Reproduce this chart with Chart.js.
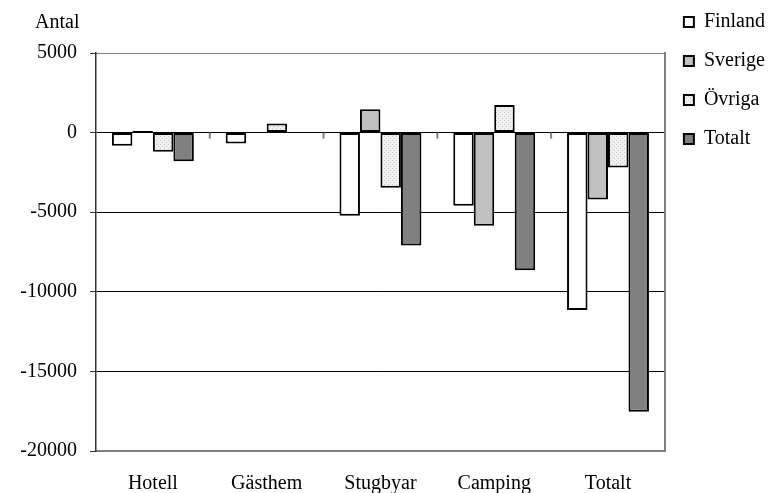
<!DOCTYPE html>
<html>
<head>
<meta charset="utf-8">
<script src="https://cdn.jsdelivr.net/npm/chart.js@4"></script>
<style>
  html, body { margin: 0; padding: 0; background: #ffffff; }
  #wrap { width: 775px; height: 493px; position: relative; }
</style>
</head>
<body>
<div id="wrap"><canvas id="c"></canvas></div>
<script>
const categories = ['Hotell', 'Gästhem', 'Stugbyar', 'Camping', 'Totalt'];
const seriesNames = ['Finland', 'Sverige', 'Övriga', 'Totalt'];
const finland = [-820, -680, -5220, -4600, -11150];
const sverige = [100, null, 1460, -5850, -4210];
const ovriga = [-1200, 570, -3470, 1730, -2200];
const totalt = [-1800, null, -7090, -8640, -17530];
const yTicks = [5000, 0, -5000, -10000, -15000, -20000];
const yTitle = 'Antal';

const FONT = 'Liberation Serif, Times New Roman, serif';

function dotPattern() {
  const pc = document.createElement('canvas');
  pc.width = 4; pc.height = 4;
  const g = pc.getContext('2d');
  g.fillStyle = '#f0f0f0';
  g.fillRect(0, 0, 4, 4);
  g.fillStyle = '#cacaca';
  g.fillRect(0, 0, 1, 1);
  g.fillRect(2, 2, 1, 1);
  return g.createPattern(pc, 'repeat');
}

const titlePlugin = {
  id: 'yTitleText',
  afterDraw(chart) {
    const { ctx, chartArea } = chart;
    ctx.save();
    ctx.font = '20px ' + FONT;
    ctx.fillStyle = '#000';
    ctx.textAlign = 'left';
    ctx.textBaseline = 'alphabetic';
    ctx.fillText(yTitle, chartArea.left - 61, chartArea.top - 25);
    ctx.restore();
  }
};

const zeroTicksPlugin = {
  id: 'zeroTicks',
  afterDraw(chart) {
    const { ctx } = chart;
    const xs = chart.scales.x, ys = chart.scales.y;
    const y0 = ys.getPixelForValue(0);
    ctx.save();
    ctx.strokeStyle = '#808080';
    ctx.lineWidth = 2;
    for (let i = 1; i < categories.length; i++) {
      const x = (xs.getPixelForValue(i - 1) + xs.getPixelForValue(i)) / 2;
      ctx.beginPath();
      ctx.moveTo(x, y0);
      ctx.lineTo(x, y0 + 6);
      ctx.stroke();
    }
    ctx.restore();
  }
};

const fills = ['#ffffff', '#c0c0c0', dotPattern(), '#808080'];
const values = [finland, sverige, ovriga, totalt];

new Chart(document.getElementById('c'), {
  type: 'bar',
  data: {
    labels: categories,
    datasets: seriesNames.map((n, i) => ({
      label: n,
      data: values[i],
      backgroundColor: fills[i],
      borderColor: '#000000',
      borderWidth: 2,
      borderSkipped: false,
      inflateAmount: 0,
      categoryPercentage: 0.72,
      barPercentage: 1.0
    }))
  },
  options: {
    responsive: true,
    maintainAspectRatio: false,
    animation: false,
    layout: { padding: { top: -7, right: 0, bottom: 0, left: 0 } },
    plugins: {
      tooltip: { enabled: false },
      title: { display: false },
      legend: {
        position: 'right',
        align: 'start',
        maxWidth: 111,
        labels: {
          boxWidth: 10,
          boxHeight: 10,
          padding: 19,
          color: '#000',
          font: { family: FONT, size: 20 }
        }
      }
    },
    scales: {
      x: {
        position: 'bottom',
        grid: { display: false, drawTicks: false },
        border: { display: true, color: '#808080', width: 2 },
        ticks: { color: '#000', font: { family: FONT, size: 20 }, padding: 21, maxRotation: 0 },
        afterFit(scale) { scale.height = 42; }
      },
      x2: {
        type: 'linear',
        position: 'top',
        grid: { display: false, drawTicks: false },
        border: { display: true, color: '#808080', width: 1 },
        ticks: { display: false },
        afterFit(scale) { scale.height = 60; }
      },
      y: {
        min: -20000,
        max: 5000,
        afterBuildTicks(scale) { scale.ticks = yTicks.map(v => ({ value: v })); },
        ticks: {
          color: '#000',
          font: { family: FONT, size: 20 },
          padding: 13,
          callback: (v) => String(v)
        },
        grid: {
          color: (c) => (c.tick && (c.tick.value === 5000 || c.tick.value === -20000)) ? '#808080' : '#000000',
          lineWidth: 1,
          drawTicks: true,
          tickLength: 6,
          tickColor: '#333333'
        },
        border: { display: true, color: '#333333', width: 1.5 },
        afterFit(scale) { scale.width = 96; }
      },
      y2: {
        type: 'linear',
        position: 'right',
        grid: { display: false, drawTicks: false },
        border: { display: true, color: '#808080', width: 2 },
        ticks: { display: false },
        afterFit(scale) { scale.width = 0; }
      }
    }
  },
  plugins: [titlePlugin, zeroTicksPlugin]
});
</script>
</body>
</html>
